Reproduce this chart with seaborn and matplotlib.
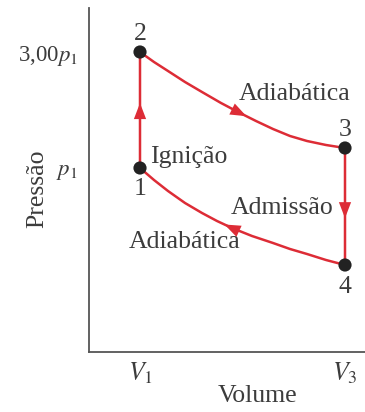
import numpy as np
import pandas as pd
import matplotlib
matplotlib.use("Agg")
import matplotlib.pyplot as plt
import seaborn as sns

# ---- data (schematic units) ----
point_labels = ["1", "2", "3", "4"]
point_V = [0.51, 0.51, 2.56, 2.56]
point_p = [1.84, 3.00, 2.04, 0.87]

# adiabatic 2 -> 3
adia_top_V = [0.51, 0.65, 0.79, 0.96, 1.13, 1.32, 1.51, 1.67, 1.84, 2.01, 2.18, 2.37, 2.56]
adia_top_p = [3.00, 2.90, 2.81, 2.70, 2.60, 2.49, 2.39, 2.31, 2.23, 2.16, 2.11, 2.07, 2.04]
# adiabatic 4 -> 1
adia_bot_V = [2.56, 2.37, 2.18, 2.01, 1.84, 1.63, 1.43, 1.28, 1.13, 0.96, 0.79, 0.65, 0.51]
adia_bot_p = [0.87, 0.92, 0.98, 1.03, 1.09, 1.16, 1.24, 1.31, 1.39, 1.49, 1.61, 1.72, 1.84]

x_tick_pos = [0.51, 2.56]
x_tick_labels = [r"$V_1$", r"$V_3$"]
y_tick_pos = [1.84, 3.00]
y_tick_labels = [r"$p_1$", r"3,00$p_1$"]

RED = "#dd2c36"
INK = "#3c3c3c"

sns.set_style("white")
plt.rcParams["font.family"] = ["Liberation Serif", "DejaVu Serif"]
plt.rcParams["mathtext.fontset"] = "stix"

# full cycle path 1 -> 2 -> 3 -> 4 -> 1
path_V = [point_V[0]] + adia_top_V + adia_bot_V
path_p = [point_p[0]] + adia_top_p + adia_bot_p
df = pd.DataFrame({"V": path_V, "p": path_p})
pts = pd.DataFrame({"V": point_V, "p": point_p, "lab": point_labels})

fig = plt.figure(figsize=(3.65, 4.12), dpi=100)
ax = fig.add_axes([89 / 365, 60 / 412, 276 / 365, 344 / 412])

sns.lineplot(data=df, x="V", y="p", sort=False, estimator=None,
             color=RED, linewidth=1.8, ax=ax, zorder=2)


def arrow_on(x0, y0, x1, y1, t):
    """arrowhead placed at fraction t of the segment (x0,y0)->(x1,y1)"""
    xt = x0 + (x1 - x0) * t
    yt = y0 + (y1 - y0) * t
    xs = x0 + (x1 - x0) * (t - 0.1)
    ys = y0 + (y1 - y0) * (t - 0.1)
    ax.annotate("", xy=(xt, yt), xytext=(xs, ys),
                arrowprops=dict(arrowstyle="-|>,head_length=0.55,head_width=0.21",
                                color=RED, lw=0, mutation_scale=21,
                                shrinkA=0, shrinkB=0), zorder=3)


# 1 -> 2
arrow_on(point_V[0], point_p[0], point_V[1], point_p[1], 0.56)
# 3 -> 4
arrow_on(point_V[2], point_p[2], point_V[3], point_p[3], 0.60)
# on adiabats
arrow_on(adia_top_V[6], adia_top_p[6], adia_top_V[7], adia_top_p[7], 0.4)
arrow_on(adia_bot_V[6], adia_bot_p[6], adia_bot_V[7], adia_bot_p[7], 0.5)

sns.scatterplot(data=pts, x="V", y="p", color="#222222", s=90,
                edgecolor="none", ax=ax, zorder=4)

fs = 18.5
# point numbers
offsets = {"1": (0, -15), "2": (0, 13), "3": (0, 13), "4": (0, -16)}
for lab, v, p in zip(point_labels, point_V, point_p):
    dx, dy = offsets[lab]
    ax.annotate(lab, (v, p), xytext=(dx, dy), textcoords="offset points",
                ha="center", va="center", fontsize=fs, color=INK)

ax.annotate("Ignição", (point_V[0], point_p[0]), xytext=(7, 8),
            textcoords="offset points", ha="left", va="center",
            fontsize=fs, color=INK)
ax.annotate("Adiabática", (adia_top_V[6], adia_top_p[6]), xytext=(-1, 14),
            textcoords="offset points", ha="left", va="center",
            fontsize=fs, color=INK)
ax.annotate("Admissão", (point_V[2], (point_p[2] + point_p[3]) / 2),
            xytext=(-8, -1), textcoords="offset points", ha="right",
            va="center", fontsize=fs, color=INK)
ax.annotate("Adiabática", (adia_bot_V[6], adia_bot_p[6]), xytext=(6, -10),
            textcoords="offset points", ha="right", va="center",
            fontsize=fs, color=INK)

ax.set_xlim(0, 2.76)
ax.set_ylim(0, 3.44)
ax.set_xticks(x_tick_pos)
ax.set_xticklabels(x_tick_labels)
ax.set_yticks(y_tick_pos)
ax.set_yticklabels(y_tick_labels)
ax.tick_params(axis="both", direction="in", length=8, width=1.2,
               colors="#555555", labelcolor=INK, labelsize=fs)
ax.tick_params(axis="y", pad=8, labelsize=16.5)
ax.tick_params(axis="x", pad=6)

for side in ("top", "right"):
    ax.spines[side].set_visible(False)
for side in ("left", "bottom"):
    ax.spines[side].set_color("#555555")
    ax.spines[side].set_linewidth(1.3)

ax.set_xlabel("Volume", fontsize=fs, color=INK, va="center")
ax.set_ylabel("Pressão", fontsize=fs, color=INK, va="center")
ax.xaxis.set_label_coords((258 - 89) / 276, -(396 - 352) / 344)
ax.yaxis.set_label_coords((37 - 89) / 276, (352 - 189) / 344)

fig.savefig("out.png", dpi=100)
